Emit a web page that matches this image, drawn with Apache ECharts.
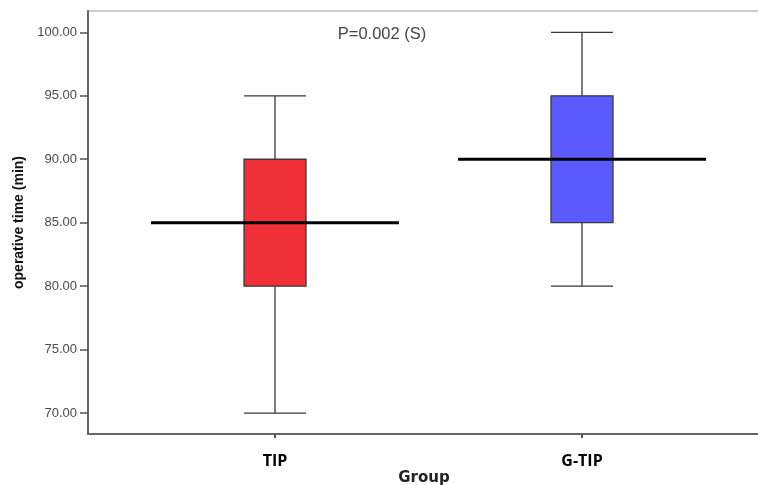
<!DOCTYPE html>
<html>
<head>
<meta charset="utf-8">
<style>
  html, body { margin: 0; padding: 0; background: #fff; }
  #chart { width: 758px; height: 485px; }
</style>
<script src="https://cdn.jsdelivr.net/npm/echarts@6/dist/echarts.min.js"></script>
</head>
<body>
<div id="chart"></div>
<script>
// groups and their box stats: [min, Q1, median, Q3, max]
const groups = ['TIP', 'G-TIP']
const tipStats = [70, 80, 85, 90, 95]
const gtipStats = [80, 85, 90, 95, 100]
const medians = [85, 90]
const boxColors = ['#EF3038', '#5A5AFF']
const yTicks = [70, 75, 80, 85, 90, 95, 100]
const pText = 'P=0.002 (S)'

const yMin = 68.35
const yMax = 101.68

const myChart = echarts.init(document.getElementById('chart'))

myChart.setOption({
  animation: false,
  graphic: [
    {
      type: 'text',
      x: 382,
      y: 34,
      style: {
        text: pText,
        align: 'center',
        verticalAlign: 'middle',
        fontSize: 16.5,
        fill: '#444',
        fontFamily: 'Liberation Sans',
      },
    },
  ],
  grid: [
    // frame grid (axis lines, y ticks, top border)
    { left: 88, right: -2, top: 11, bottom: 51, outerBoundsMode: 'none', show: true, borderColor: '#999', borderWidth: 1, backgroundColor: 'transparent' },
    // data grid, narrower so the two groups sit where they do in the picture
    { left: 121.5, right: 22.5, top: 11, bottom: 51, outerBoundsMode: 'none' },
  ],
  xAxis: [
    {
      type: 'value',
      gridIndex: 0,
      min: 0,
      max: 1,
      axisLine: { show: true, lineStyle: { color: '#666', width: 2 } },
      axisTick: { show: false },
      axisLabel: { show: false },
      splitLine: { show: false },
      name: 'Group',
      nameLocation: 'middle',
      nameGap: 37,
      nameTextStyle: { fontSize: 15, fontWeight: 'bold', color: '#222', fontFamily: 'DejaVu Sans' },
    },
    {
      type: 'category',
      gridIndex: 1,
      data: groups,
      axisLine: { show: false },
      axisTick: { show: true, alignWithLabel: true, length: 4, lineStyle: { color: '#555', width: 2 } },
      axisLabel: { fontSize: 16, fontWeight: 'bold', color: '#000', margin: 19, fontFamily: 'Open Sans' },
    },
  ],
  yAxis: [
    {
      type: 'value',
      gridIndex: 0,
      min: yMin,
      max: yMax,
      axisLine: { show: true, lineStyle: { color: '#666', width: 2 } },
      axisTick: { show: true, length: 8, lineStyle: { color: '#555', width: 1.5 }, customValues: yTicks },
      axisLabel: {
        customValues: yTicks,
        formatter: (v) => v.toFixed(2),
        fontSize: 13,
        color: '#4a4a4a',
        margin: 11,
        fontFamily: 'Liberation Sans',
      },
      splitLine: { show: false },
      name: 'operative time (min)',
      nameLocation: 'middle',
      nameGap: 57,
      nameTextStyle: { fontSize: 14, fontWeight: 'bold', color: '#111', fontFamily: 'Liberation Sans' },
    },
    {
      type: 'value',
      gridIndex: 1,
      min: yMin,
      max: yMax,
      show: false,
    },
  ],
  series: [
    {
      type: 'boxplot',
      xAxisIndex: 1,
      yAxisIndex: 1,
      boxWidth: [62, 62],
      data: [tipStats, gtipStats].map((s, i) => ({
        value: s,
        itemStyle: { color: boxColors[i], borderColor: '#3a3a3a', borderWidth: 1.3 },
      })),
    },
    {
      // wide black median lines
      type: 'custom',
      xAxisIndex: 1,
      yAxisIndex: 1,
      z: 5,
      data: medians.map((m, i) => [i, m]),
      renderItem: (params, api) => {
        const p = api.coord([api.value(0), api.value(1)])
        const half = api.size([1, 0])[0] * 0.404
        return {
          type: 'line',
          shape: { x1: p[0] - half, y1: p[1], x2: p[0] + half, y2: p[1] },
          style: { stroke: '#000', lineWidth: 3 },
        }
      },
    },
  ],
})
</script>
</body>
</html>
